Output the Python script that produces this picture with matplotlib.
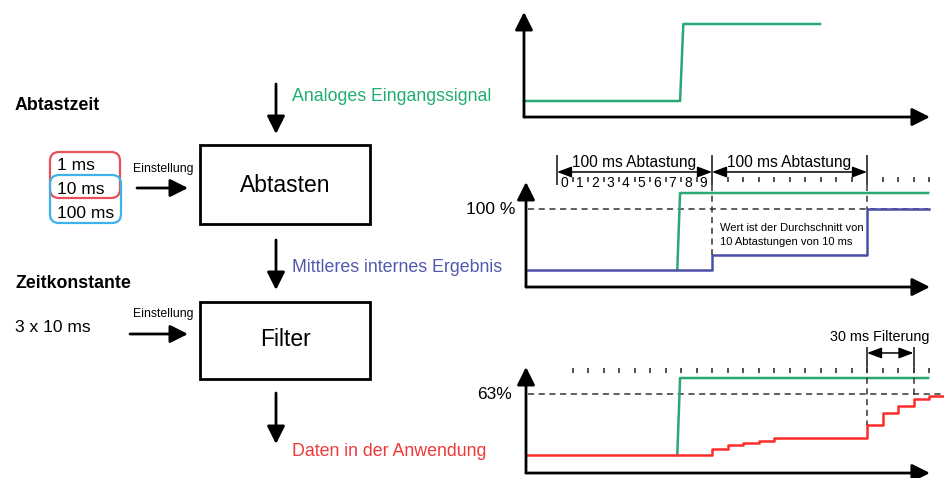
import matplotlib
matplotlib.use('Agg')
import matplotlib.pyplot as plt
from matplotlib.patches import FancyBboxPatch, Rectangle

plt.rcParams['font.family'] = ['Liberation Sans', 'DejaVu Sans']

# colours
GREEN = '#2aa874'
BLUE = '#4a4ea6'
RED = '#ff2b2b'
TXT_RED = '#f03838'
TXT_BLUE = '#5258b0'
TXT_GREEN = '#22ad72'

# ---- data (time in ms, level relative to the high input level) ----
input_t = [-21.3, 79.4, 81.5, 169.7]
input_v = [0, 0, 1, 1]

step_t = [77.6, 79.4, 239.4]
step_v = [0, 1, 1]

mean_t = [-20, 100, 200, 240]
mean_v = [0, 0.195, 0.79, 0.79]

filt_t = [-20, 100, 110, 120, 130, 140, 200, 210, 220, 230, 240, 249]
filt_v = [0, 0.074, 0.13, 0.16, 0.186, 0.216, 0.39, 0.54, 0.636, 0.723, 0.766, 0.766]

ref_level = 0.79
sample_digits = list(range(10))
window_edges = [0, 100, 200]
mid_ticks = [t for t in range(10, 250, 10) if t not in window_edges]
bot_ticks = list(range(10, 250, 10))
filter_edges = [200, 230]

sample_options = ['1 ms', '10 ms', '100 ms']

W, H = 945, 478
fig = plt.figure(figsize=(W / 100, H / 100), dpi=100)
ax = fig.add_axes([0, 0, 1, 1])
ax.set_xlim(0, W)
ax.set_ylim(H, 0)
ax.axis('off')

def arrow(a, p0, p1, lw=2, ms=27, style='-|>,head_length=0.4,head_width=0.2'):
    a.annotate('', xy=p1, xytext=p0, annotation_clip=False,
               arrowprops=dict(arrowstyle=style, color='black', lw=lw,
                               mutation_scale=ms, shrinkA=0, shrinkB=0))

# ---- block diagram ----
ax.text(15, 105, 'Abtastzeit', fontsize=12.8, fontweight='bold', va='center')
ax.add_patch(FancyBboxPatch((50, 152), 70, 46, boxstyle='round,pad=0,rounding_size=9',
                            fc='none', ec='#e8505a', lw=1.6))
ax.add_patch(FancyBboxPatch((50, 175), 71, 48, boxstyle='round,pad=0,rounding_size=9',
                            fc='none', ec='#3db2ea', lw=1.6))
for i, s in enumerate(sample_options):
    ax.text(57, 165 + 24 * i, s, fontsize=12.5, va='center')

ax.text(163, 169, 'Einstellung', fontsize=8.8, ha='center', va='center')
arrow(ax, (137, 188), (188, 188))
ax.add_patch(Rectangle((200, 145), 170, 79, fc='none', ec='black', lw=2))
ax.text(285, 185, 'Abtasten', fontsize=16.5, ha='center', va='center')

arrow(ax, (276, 84), (276, 134))
ax.text(292, 96, 'Analoges Eingangssignal', fontsize=12.8, color=TXT_GREEN, va='center')

arrow(ax, (276, 240), (276, 290))
ax.text(292, 268, 'Mittleres internes Ergebnis', fontsize=12.8, color=TXT_BLUE, va='center')

ax.text(15, 283, 'Zeitkonstante', fontsize=12.8, fontweight='bold', va='center')
ax.text(15, 328, '3 x 10 ms', fontsize=12.5, va='center')
ax.text(163, 314, 'Einstellung', fontsize=8.8, ha='center', va='center')
arrow(ax, (130, 334), (188, 334))
ax.add_patch(Rectangle((200, 302), 170, 77, fc='none', ec='black', lw=2))
ax.text(285, 340, 'Filter', fontsize=16.5, ha='center', va='center')

arrow(ax, (276, 393), (276, 444))
ax.text(292, 452, 'Daten in der Anwendung', fontsize=12.8, color=TXT_RED, va='center')

# ---- signal panels ----
PX0, PXMS = 557, 1.55
XL = ((460 - PX0) / PXMS, (W - PX0) / PXMS)

def panel(y0, y1, top, bot):
    s = y0 - y1
    p = fig.add_axes([460 / W, 1 - bot / H, (W - 460) / W, (bot - top) / H])
    p.set_xlim(*XL)
    p.set_ylim((y0 - bot) / s, (y0 - top) / s)
    p.axis('off')
    p.patch.set_alpha(0)
    return p

def axes_arrows(p, t0, v0, v1):
    arrow(p, (t0, v0), (240.6, v0))
    arrow(p, (t0, v0), (t0, v1))

dash = dict(color='#333333', lw=1.1, ls=(0, (4, 3)))
dim_style = '<|-|>,head_length=0.8,head_width=0.3'

# top: analog input
p1 = panel(101, 24, 0, 130)
axes_arrows(p1, -21.3, -0.208, 1.156)
p1.plot(input_t, input_v, color=GREEN, lw=1.8)

# middle: sampled mean
p2 = panel(270, 193, 135, 300)
axes_arrows(p2, -20, -0.221, 1.143)
p2.plot([-19, 239.4], [ref_level, ref_level], **dash)
p2.plot(step_t, step_v, color=GREEN, lw=1.8)
p2.plot(mean_t, mean_v, color=BLUE, lw=1.8, drawstyle='steps-post')
p2.text(-27, ref_level, '100 %', fontsize=12.5, ha='right', va='center')
p2.vlines(mid_ticks, 1.143, 1.21, color='#222222', lw=1.1)
for d in sample_digits:
    p2.text(10 * d + 4.5, 1.13, str(d), fontsize=10, ha='center', va='center')
p2.vlines(window_edges, 1.104, 1.494, color='#222222', lw=1.2)
for a, b in zip(window_edges[:-1], window_edges[1:]):
    arrow(p2, (a, 1.273), (b, 1.273), lw=1.1, ms=11, style=dim_style)
    p2.text((a + b) / 2, 1.40, '100 ms Abtastung', fontsize=11.2, ha='center', va='center')
p2.plot([100, 100], [1.104, mean_v[1]], **dash)
p2.plot([200, 200], [1.104, mean_v[2]], **dash)
p2.text(105.2, 0.545, 'Wert ist der Durchschnitt von', fontsize=8, va='center')
p2.text(105.2, 0.364, '10 Abtastungen von 10 ms', fontsize=8, va='center')

# bottom: filtered output
p3 = panel(455, 378, 320, 478)
axes_arrows(p3, -20, -0.234, 1.143)
p3.plot([-19, 249], [ref_level, ref_level], **dash)
p3.plot(step_t, step_v, color=GREEN, lw=1.8)
p3.plot(filt_t, filt_v, color=RED, lw=1.8, drawstyle='steps-post')
p3.text(-29, ref_level, '63%', fontsize=12.5, ha='right', va='center')
p3.vlines(bot_ticks, 1.065, 1.13, color='#222222', lw=1.1)
p3.vlines(filter_edges, 1.143, 1.403, color='#222222', lw=1.2)
for t in filter_edges:
    p3.plot([t, t], [1.143, filt_v[filt_t.index(t)]], **dash)
arrow(p3, (filter_edges[0], 1.325), (filter_edges[1], 1.325), lw=1.1, ms=11, style=dim_style)
p3.text(208, 1.53, '30 ms Filterung', fontsize=10.4, ha='center', va='center')

fig.savefig('out.png', dpi=100)
